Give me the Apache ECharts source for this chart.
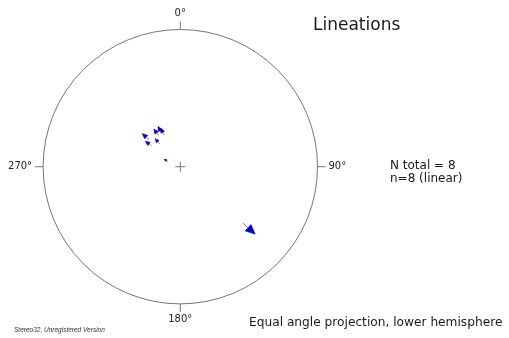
<!DOCTYPE html>
<html><head><meta charset="utf-8">
<script src="https://cdn.jsdelivr.net/npm/echarts@6/dist/echarts.min.js"></script>
<style>html,body{margin:0;padding:0;background:#fff}#c{width:509px;height:338px}</style>
</head><body><div id="c"></div>
<script>
// Lineation data (trend / plunge, degrees)
const trends  = [311, 306, 325, 331, 333, 318, 294, 132];
const plunges = [53, 58, 56, 56, 58, 62, 77, 22];
// Angular tick values and labels
const angleTicks = [0, 90, 180, 270];
const angleTickLabels = ['0°', '90°', '180°', '270°'];
const titleText = 'Lineations';
const projectionText = 'Equal angle projection, lower hemisphere';
const footerText = 'Stereo32, Unregistered Version';

// equal-angle (stereographic) projection radius for a plunge
function eqAngleRadius(p) { return Math.tan((90 - p) / 2 * Math.PI / 180); }
const points = trends.map((t, i) => [eqAngleRadius(plunges[i]), t, plunges[i]]);

const FONT = 'DejaVu Sans';
const chart = echarts.init(document.getElementById('c'));
chart.setOption({
  animation: false,
  backgroundColor: '#fff',
  title: [
    { text: titleText, left: 313, top: 17, padding: 0,
      textStyle: { fontFamily: FONT, fontSize: 17, fontWeight: 'normal', color: '#1a1a1a' } },
    { text: 'N total = ' + trends.length + '\nn=' + trends.length + ' (linear)', left: 390, top: 159.5, padding: 0,
      textStyle: { fontFamily: FONT, fontSize: 12, lineHeight: 12.6, fontWeight: 'normal', color: '#1a1a1a' } },
    { text: projectionText, left: 249, top: 317, padding: 0,
      textStyle: { fontFamily: FONT, fontSize: 12.2, fontWeight: 'normal', color: '#1a1a1a' } },
    { text: footerText, left: 14, top: 326.5, padding: 0,
      textStyle: { fontFamily: 'Liberation Sans', fontStyle: 'italic', fontSize: 6.5, fontWeight: 'normal', color: '#333' } }
  ],
  polar: { center: [180.3, 166.7], radius: 137.2 },
  angleAxis: {
    type: 'value', min: 0, max: 360, interval: 90, startAngle: 90, clockwise: true,
    axisLine: { show: true, lineStyle: { color: '#777', width: 1 } },
    axisTick: { show: true, length: 8, lineStyle: { color: '#777', width: 1 } },
    splitLine: { show: false },
    axisLabel: {
      margin: 11, fontFamily: FONT, fontSize: 10, color: '#222',
      formatter: v => { const i = angleTicks.indexOf(v); return i >= 0 ? angleTickLabels[i] : ''; }
    }
  },
  radiusAxis: { type: 'value', min: 0, max: 1, show: false, axisLine: { show: false }, axisTick: { show: false }, axisLabel: { show: false }, splitLine: { show: false } },
  series: [
    {
      type: 'custom', coordinateSystem: 'polar', silent: true,
      data: [[0, 0]],
      renderItem: (params, api) => {
        const c = api.coord([0, 0]);
        const s = 5;
        return { type: 'group', children: [
          { type: 'line', shape: { x1: c[0] - s, y1: c[1], x2: c[0] + s, y2: c[1] }, style: { stroke: '#777', lineWidth: 1 } },
          { type: 'line', shape: { x1: c[0], y1: c[1] - s, x2: c[0], y2: c[1] + s }, style: { stroke: '#777', lineWidth: 1 } }
        ] };
      }
    },
    {
      type: 'custom', coordinateSystem: 'polar', silent: true,
      data: points,
      renderItem: (params, api) => {
        const r = api.value(0), t = api.value(1), p = api.value(2);
        const c = api.coord([r, t]);
        const a = t * Math.PI / 180;
        const dx = Math.sin(a), dy = -Math.cos(a);
        const cp = Math.cos(p * Math.PI / 180);
        const L = 3.5 + 15 * cp * cp;
        const hl = 0.58 * L, hw = 0.52 * L;
        const tail = [c[0] - dx * L / 2, c[1] - dy * L / 2];
        const tip = [c[0] + dx * L / 2, c[1] + dy * L / 2];
        const base = [tip[0] - dx * hl, tip[1] - dy * hl];
        const nx = -dy, ny = dx;
        return { type: 'group', children: [
          { type: 'line', shape: { x1: tail[0], y1: tail[1], x2: base[0], y2: base[1] }, style: { stroke: '#8a8a8a', lineWidth: 1 } },
          { type: 'polygon', shape: { points: [tip, [base[0] + nx * hw / 2, base[1] + ny * hw / 2], [base[0] - nx * hw / 2, base[1] - ny * hw / 2]] },
            style: { fill: '#0000f0', stroke: '#000090', lineWidth: 0.6 } }
        ] };
      }
    }
  ]
});
</script></body></html>
